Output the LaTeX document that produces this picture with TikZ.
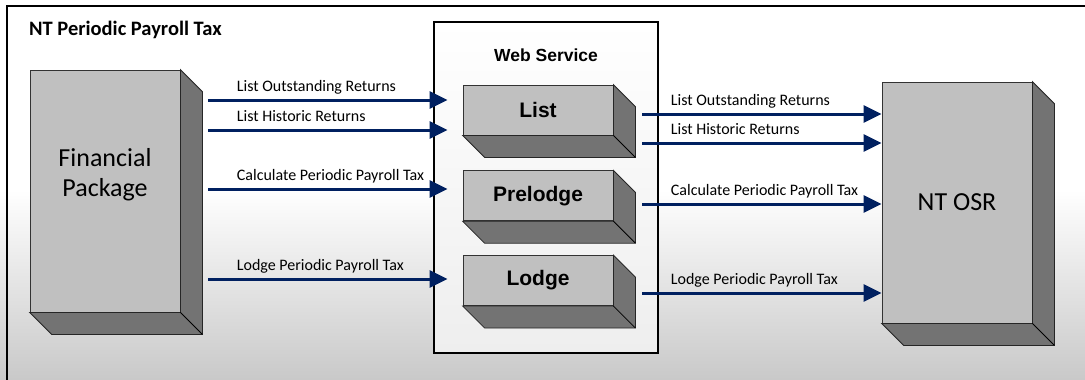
\documentclass[tikz,border=0pt]{standalone}
\usepackage{fontspec}
\setmainfont{Carlito}
\newfontfamily\arialfont{Liberation Sans}
\usetikzlibrary{arrows.meta,positioning}

\definecolor{facegray}{RGB}{192,192,192}
\definecolor{sidegray}{RGB}{115,115,115}
\definecolor{navy}{RGB}{0,32,96}
\definecolor{bgbottom}{RGB}{198,198,198}
\definecolor{wsbottom}{RGB}{238,238,238}

\tikzset{
  block/.style={draw=black!80, fill=facegray, line width=0.8pt, minimum width=150pt, inner sep=0pt},
  subblock/.style={block, minimum height=50pt, font=\arialfont\bfseries\fontsize{21}{25}\selectfont},
  flow/.style={draw=navy, line width=3pt, -{Triangle[length=18pt,width=17pt]}},
  lbl/.style={at start, anchor=base west, xshift=27pt, yshift=9pt, inner sep=0pt, font=\fontsize{16}{19}\selectfont},
}

% side and bottom faces of a block
\newcommand{\extrude}[1]{%
  \filldraw[fill=sidegray, draw=black!85, line width=0.8pt] (#1.north east) -- ++(22,22) -- ([shift={(22,22)}]#1.south east) -- ([shift={(22,22)}]#1.south west) -- (#1.south west) -- (#1.south east) -- cycle;
  \draw[black, line width=0.8pt] (#1.south east) -- ++(22,22);
}

\begin{document}
\begin{tikzpicture}[x=1pt, y=-1pt]
\useasboundingbox (0,0) rectangle (1085,380);
\fill[white] (-5,-5) rectangle (1095,190);
\shade[top color=white, bottom color=bgbottom] (-5,190) rectangle (1095,390);
\draw[line width=2pt] (1095,6) -- (7,6) -- (7,395);
\node[anchor=base west, inner sep=0pt, font=\bfseries\fontsize{20.5}{24}\selectfont] (title) at (29,35) {NT Periodic Payroll Tax};

\node[block, minimum height=242pt] (fin) at (105,191) {};
\extrude{fin}
\node[align=center, font=\fontsize{26}{30}\selectfont] (fintxt) at (105,175) {Financial\\Package};

\node[draw, line width=1.3pt, minimum width=224pt, minimum height=331pt, top color=white, middle color=white, bottom color=wsbottom] (ws) at (546,187.5) {};
\node[anchor=base, font=\arialfont\bfseries\fontsize{17.5}{21}\selectfont] (wstitle) at ([yshift=-40pt]ws.north) {Web Service};

\node[subblock] (list) at (538,110) {List};
\node[subblock, below=35pt of list] (pre) {Prelodge};
\node[subblock, below=34pt of pre] (lodge) {Lodge};
\extrude{list}
\extrude{pre}
\extrude{lodge}

\node[block, minimum height=241pt, font=\fontsize{26}{30}\selectfont] (osr) at (957,202.5) {NT OSR};
\extrude{osr}

\foreach \y/\dst/\txt in {100/list/List Outstanding Returns, 130/list/List Historic Returns, 189/pre/Calculate Periodic Payroll Tax, 279/lodge/Lodge Periodic Payroll Tax}
  \draw[flow] ([xshift=28pt]fin.east |- 0,\y) -- node[lbl] {\txt} ([xshift=-15pt]\dst.west |- 0,\y);

\foreach \y/\src/\txt in {114/list/List Outstanding Returns, 143/list/List Historic Returns, 204/pre/Calculate Periodic Payroll Tax, 293/lodge/Lodge Periodic Payroll Tax}
  \draw[flow] ([xshift=29pt]\src.east |- 0,\y) -- node[lbl] {\txt} (osr.west |- 0,\y);
\end{tikzpicture}
\end{document}
